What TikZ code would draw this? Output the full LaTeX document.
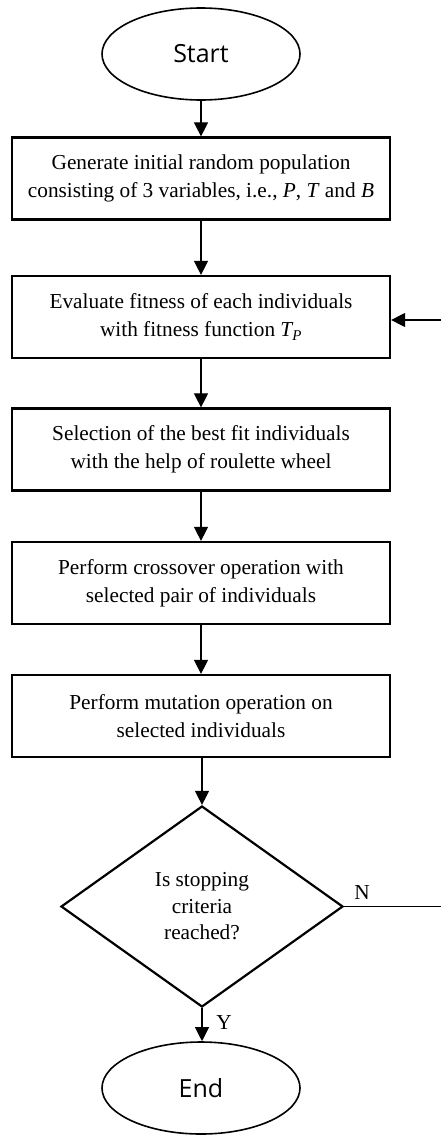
\documentclass[tikz,border=0pt]{standalone}
\usepackage{fontspec}
\setmainfont{Liberation Serif}
\newfontfamily\termfont{Open Sans}
\usetikzlibrary{shapes.geometric,arrows.meta}
\begin{document}
\begin{tikzpicture}[x=1pt,y=-1pt,
  procbox/.style={draw,line width=2.2pt,rectangle,minimum width=378pt,minimum height=82pt,
    align=center,inner sep=0pt,font=\fontsize{21.3}{28}\selectfont},
  termnode/.style={draw,line width=1.6pt,ellipse,minimum width=198pt,minimum height=92pt,
    inner sep=0pt,font=\termfont\fontsize{25}{28}\selectfont},
  decnode/.style={draw,line width=2.2pt,diamond,minimum width=282pt,minimum height=201pt,
    align=center,inner sep=0pt,font=\fontsize{21.3}{26.5}\selectfont},
  flow/.style={line width=1.1pt,-{Triangle[length=14pt,width=14pt]}},
  lbl/.style={font=\fontsize{21.3}{24}\selectfont,inner sep=0pt}]
\useasboundingbox (0,0) rectangle (441,1135);
\node[termnode] (start) at (201,54) {Start};
\node[procbox] (b1) at (201,178.5) {Generate initial random population\\consisting of 3 variables, i.e., \textit{P}, \textit{T} and \textit{B}};
\node[procbox] (b2) at (201,317) {Evaluate fitness of each individuals\\with fitness function \textit{T\textsubscript{P}}};
\node[procbox] (b3) at (201,449.5) {Selection of the best fit individuals\\with the help of roulette wheel};
\node[procbox] (b4) at (201,583) {Perform crossover operation with\\selected pair of individuals};
\node[procbox] (b5) at (201,716) {Perform mutation operation on\\selected individuals};
\node[decnode] (dec) at (202,906.5) {Is stopping\\criteria\\reached?};
\node[termnode] (end) at (201,1088) {End};
\node[lbl] (nlab) at (362,893) {N};
\node[lbl] (ylab) at (224,1023) {Y};
\coordinate (r1) at (443,906.5);
\coordinate (r2) at (443,320);
\draw[flow] (start) -- (b1);
\draw[flow] (b1) -- (b2);
\draw[flow] (b2) -- (b3);
\draw[flow] (b3) -- (b4);
\draw[flow] (b4) -- (b5);
\draw[flow] (b5.south -| dec.north) -- (dec.north);
\draw[flow] (dec.south) -- (end.north -| dec.south);
\draw[flow] (dec.east) -- (r1) -- (r2) -- (r2 -| b2.east);
\end{tikzpicture}
\end{document}
